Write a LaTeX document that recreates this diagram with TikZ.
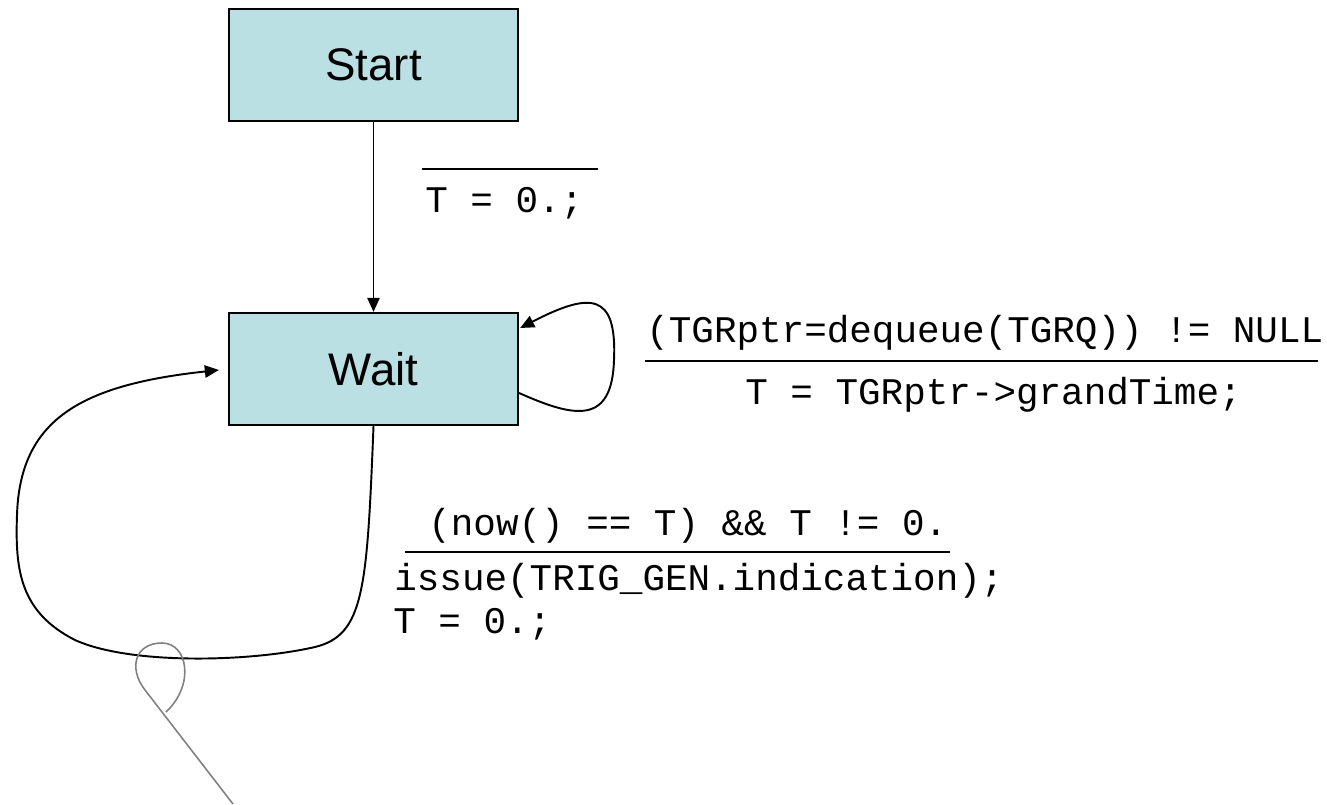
\documentclass[tikz,border=0pt]{standalone}
\usepackage{fontspec}
\setsansfont{Liberation Sans}
\newfontfamily\codefont{Liberation Mono}
\usetikzlibrary{arrows.meta,positioning,calc}
\definecolor{statefill}{HTML}{BBE0E3}
\tikzset{statebox/.style={draw=black,line width=1.3pt,fill=statefill,minimum width=5.78cm,minimum height=2.24cm,inner sep=0pt,font=\sffamily\fontsize{26}{30}\selectfont},
  trans/.style={-{Triangle[length=8pt,width=7pt]},line width=1.1pt,draw=black},
  codetxt/.style={font=\codefont\fontsize{21.4}{25}\selectfont,inner sep=0pt,anchor=base west},
  guardbar/.style={line width=1.1pt,draw=black}}

\begin{document}
\begin{tikzpicture}[x=0.02cm,y=-0.02cm]
\useasboundingbox (0,0) rectangle (1327,804);
\node[statebox] (start) at (373.5,65) {Start};
\node[statebox] (wait) at (373.5,369) {Wait};
% Start -> Wait
\draw[trans] (start) -- (wait);
\draw[guardbar] (422,169) -- (598,169);
\node[codetxt] (act1) at (425,213) {T = 0.;};
% Wait -> Wait (dequeue)
\draw[trans] ($(wait.east)+(0,24)$) .. controls (575,418) and (612,425) .. (614,360)
  .. controls (617,292) and (590,292) .. ($(wait.east)+(1,-41)$);
\node[codetxt] (grd2) at (646,342) {(TGRptr=dequeue(TGRQ)) != NULL};
\draw[guardbar] (645,361) -- (1318,361);
\node[codetxt] (act2) at (745,404) {T = TGRptr->grandTime;};
% Wait -> Wait (issue)
\draw[trans] (wait.south) .. controls (367,590) and (364,635) .. (315,647)
  .. controls (250,662) and (130,665) .. (75,640)
  .. controls (20,612) and (15,570) .. (17,515)
  .. controls (20,420) and (80,385) .. ($(wait.west)+(-9,1)$);
\node[codetxt] (grd3) at (428,535) {(now() == T) \&\& T != 0.};
\draw[guardbar] (405,552) -- (950,552);
\node[codetxt] (act3a) at (394,590) {issue(TRIG\_GEN.indication);};
\node[codetxt] (act3b) at (393,633) {T = 0.;};
% stray grey loop
\draw[gray,line width=0.9pt] (233,804) -- (145,690) .. controls (128,668) and (135,643) .. (162,643)
  .. controls (188,643) and (195,685) .. (166,712);
\end{tikzpicture}
\end{document}
